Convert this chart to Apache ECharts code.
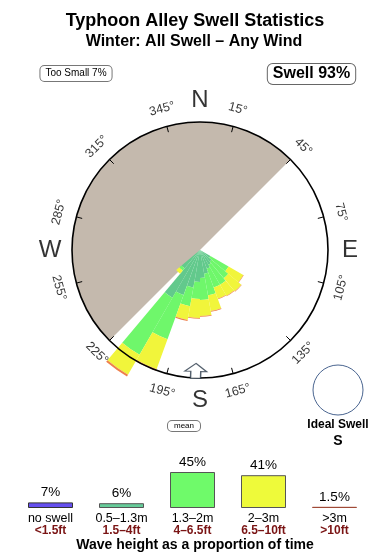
<!DOCTYPE html>
<html><head><meta charset="utf-8">
<script src="https://cdn.jsdelivr.net/npm/echarts@6/dist/echarts.min.js"></script>
<style>html,body{margin:0;padding:0;background:#fff}#c{width:390px;height:560px}</style>
</head><body><div id="c"></div>
<script>
const FONT = '"Liberation Sans", Arial, Helvetica, sans-serif';

// ---- Rose data: 36 direction bins (10° each, compass degrees of bin start) ----
const dirBins = ['0','10','20','30','40','50','60','70','80','90','100','110',
  '120','130','140','150','160','170','180','190','200','210','220','230',
  '240','250','260','270','280','290','300','310','320','330','340','350'];
// radial length of each height class in each bin (ring radius = 128)
const rose05 = [0,0,0,0,0,0,0,0,0,0,0,0, 12,15,17,20,24,28,32,38,48,55,24,0, 0,0,0,0,0,0,0,0,0,0,0,0];
const rose13 = [0,0,0,0,0,0,0,0,0,0,0,0, 21,22,23,20,22,22,17,19,47,66,3,0, 0,0,0,0,0,0,0,0,0,0,0,0];
const rose2  = [0,0,0,0,0,0,0,0,0,0,0,0, 17,17,13,12,16,16,19,14,32,23,4,0, 0,0,0,0,0,0,0,0,0,0,0,0];
const rose3  = [0,0,0,0,0,0,0,0,0,0,0,0, 0.5,0.5,0.5,0.5,0.7,0.8,0.7,1,1.5,2,0,0, 0,0,0,0,0,0,0,0,0,0,0,0];
const ringMax = 128;
// shadowed (grey) direction sector, compass degrees
const shadowSector = [225, 45];
// mean swell direction
const meanDir = [182];
// compass tick labels
const degTicks = [15,45,75,105,135,165,195,225,255,285,315,345];
const compassNames = ['N','E','S','W'];
const compassDirs = [0,90,180,270];

// ---- Legend data ----
const sizeNames = ['no swell','0.5–1.3m','1.3–2m','2–3m','>3m'];
const sizeFeet  = ['<1.5ft','1.5–4ft','4–6.5ft','6.5–10ft','>10ft'];
const sizePct   = [7, 6, 45, 41, 1.5];
const headline  = [7, 93]; // too small %, swell %

// ---- styles ----
const roseColors = ['#62c98c','#6ff76b','#f1f53b','#ee7f4c'];
const sizeColors = ['#6650f0','#66cc99','#6ffa6a','#eefa3a','#a04a38'];
const sizeBorders = ['#333','#555','#555','#555','#a04a38'];

const toRing = d => ((d - 15) % 360 + 360) % 360; // ring axis starts at compass 15°
const cwRot = d => (((d + 90) % 180) + 180) % 180 - 90;

const chart = echarts.init(document.getElementById('c'), null, {renderer:'canvas'});
const span = ((shadowSector[1] - shadowSector[0]) % 360 + 360) % 360;

const roseSeries = [rose05, rose13, rose2, rose3].map((arr, k) => ({
  type:'bar', coordinateSystem:'polar', polarIndex:0, stack:'rose',
  data: arr, barCategoryGap:'0%', clip:false, silent:true, z:3,
  itemStyle:{color:roseColors[k], borderWidth:0}
}));

chart.setOption({
  animation:false,
  backgroundColor:'#fff',
  textStyle:{fontFamily:FONT},
  polar:[
    {center:[200,250], radius:128},
    {center:[200,250], radius:128}
  ],
  angleAxis:[
    {polarIndex:0, type:'category', data:dirBins, startAngle:90, clockwise:true, show:false},
    {polarIndex:1, type:'value', min:0, max:360, interval:30, startAngle:75, clockwise:true, z:10,
     axisLine:{lineStyle:{color:'#000', width:1.6}},
     axisTick:{show:true, inside:true, length:6, lineStyle:{color:'#000', width:1}},
     axisLabel:{show:false}, splitLine:{show:false}}
  ],
  radiusAxis:[
    {polarIndex:0, type:'value', min:0, max:ringMax, show:false},
    {polarIndex:1, type:'value', min:0, max:ringMax, show:false}
  ],
  grid:{left:15, right:20, top:468, bottom:52},
  xAxis:{type:'category', data:sizeNames, axisLine:{show:false}, axisTick:{show:false},
    axisLabel:{margin:5, interval:0,
      formatter:(v,i)=>'{a|'+v+'}\n{b|'+sizeFeet[i]+'}',
      rich:{a:{fontSize:12.5, color:'#000', lineHeight:12, fontFamily:FONT},
            b:{fontSize:12, color:'#7a1414', fontWeight:'bold', lineHeight:12, fontFamily:FONT}}}},
  yAxis:{type:'value', min:0, max:50, show:false},
  series:[
    {type:'pie', center:[200,250], radius:[0,128], startAngle:shadowSector[0], clockwise:true,
     silent:true, z:1, label:{show:false}, labelLine:{show:false},
     itemStyle:{borderWidth:0}, emphasis:{disabled:true},
     data:[{value:span, itemStyle:{color:'#c4b9ad'}}, {value:360-span, itemStyle:{color:'rgba(0,0,0,0)'}}]},
    ...roseSeries,
    {type:'scatter', coordinateSystem:'polar', polarIndex:1, clip:false, silent:true, z:12,
     symbolSize:1, itemStyle:{color:'rgba(0,0,0,0)'},
     data: degTicks.map(d => ({value:[146, toRing(d)], name:d+'°',
       label:{rotate:-cwRot(d)}})),
     label:{show:true, position:'inside', formatter:p=>p.name, fontSize:12.5, color:'#000', fontFamily:FONT}},
    {type:'scatter', coordinateSystem:'polar', polarIndex:1, clip:false, silent:true, z:12,
     symbolSize:1, itemStyle:{color:'rgba(0,0,0,0)'},
     data: compassDirs.map((d,i) => ({value:[150, toRing(d)], name:compassNames[i]})),
     label:{show:true, position:'inside', formatter:p=>p.name, fontSize:24, color:'#000', fontFamily:FONT}},
    {type:'scatter', coordinateSystem:'polar', polarIndex:1, clip:false, silent:true, z:14,
     symbol:'path://M11,0 L22,8 L16,8 L16,15 L6,15 L6,8 L0,8 Z', symbolSize:[22,15],
     itemStyle:{color:'#fff', borderColor:'#2b3a4a', borderWidth:1.2},
     data: meanDir.map(d => ({value:[121, toRing(d)], symbolRotate:-(d-180)}))},
    {type:'bar', xAxisIndex:0, yAxisIndex:0, barWidth:45, silent:true,
     data: sizePct.map((v,i)=>({value:v, itemStyle:{color:sizeColors[i], borderColor:sizeBorders[i], borderWidth:1}})),
     label:{show:true, position:'top', distance:3, formatter:p=>p.value+'%', fontSize:13.5, color:'#000', fontFamily:FONT}}
  ],
  graphic:[
    {type:'text', x:195, y:21, style:{text:'Typhoon Alley Swell Statistics', font:'bold 18px '+FONT, fill:'#000', align:'center', verticalAlign:'middle'}},
    {type:'text', x:194, y:42, style:{text:'Winter: All Swell – Any Wind', font:'bold 16px '+FONT, fill:'#000', align:'center', verticalAlign:'middle'}},
    {type:'text', x:76, y:73.5, style:{text:'Too Small '+headline[0]+'%', font:'10px '+FONT, fill:'#000', align:'center', verticalAlign:'middle',
      backgroundColor:'#fff', borderColor:'#777', borderWidth:1, borderRadius:4, padding:[3,5,2,5]}},
    {type:'text', x:311.5, y:74, style:{text:'Swell '+headline[1]+'%', font:'bold 16px '+FONT, fill:'#000', align:'center', verticalAlign:'middle',
      backgroundColor:'#fff', borderColor:'#666', borderWidth:1, borderRadius:5, padding:[2,5,2,5]}},
    {type:'text', x:184, y:426, style:{text:'mean', font:'8px '+FONT, fill:'#000', align:'center', verticalAlign:'middle',
      backgroundColor:'#fff', borderColor:'#777', borderWidth:1, borderRadius:4, padding:[1,6,1,6]}},
    {type:'circle', shape:{cx:338, cy:390, r:25}, style:{fill:'none', stroke:'#4a6590', lineWidth:1}},
    {type:'text', x:338, y:425, style:{text:'Ideal Swell', font:'bold 12px '+FONT, fill:'#000', align:'center', verticalAlign:'middle'}},
    {type:'text', x:338, y:441, style:{text:'S', font:'bold 14px '+FONT, fill:'#000', align:'center', verticalAlign:'middle'}},
    {type:'text', x:195, y:545, style:{text:'Wave height as a proportion of time', font:'bold 14px '+FONT, fill:'#000', align:'center', verticalAlign:'middle'}}
  ]
});
</script></body></html>
